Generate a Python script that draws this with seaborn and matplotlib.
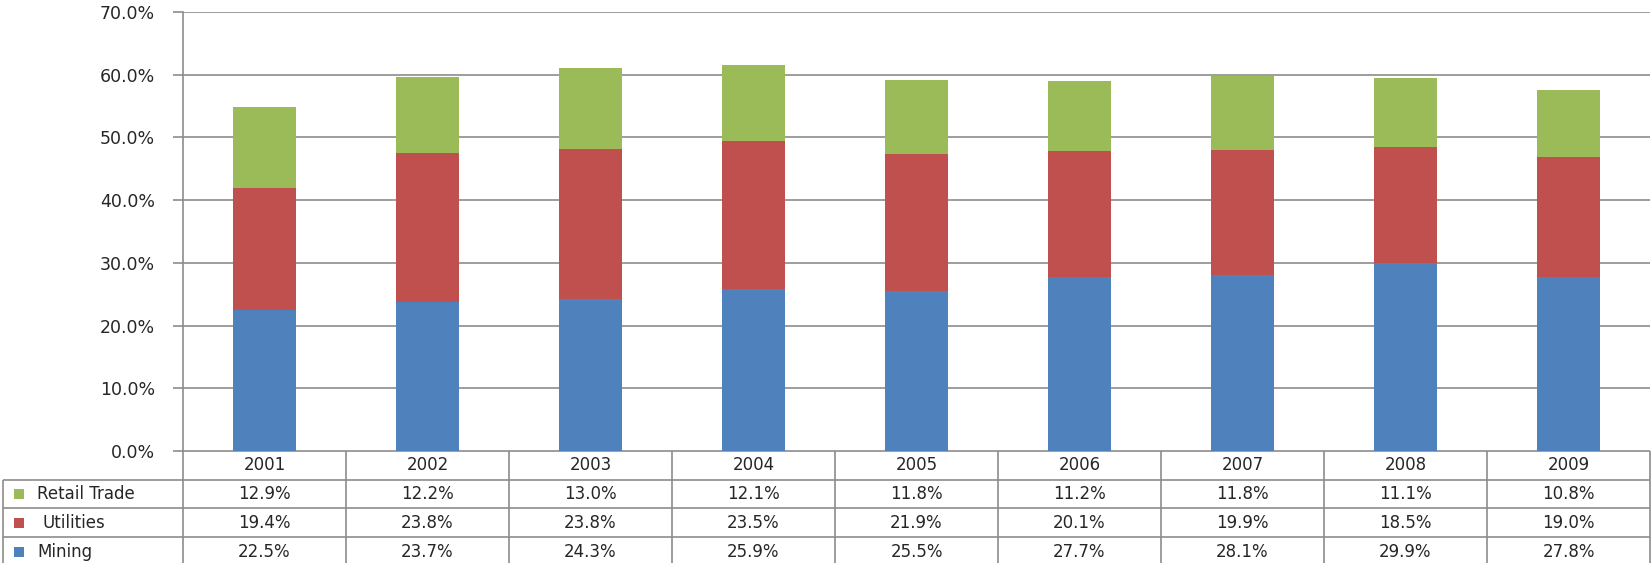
import matplotlib
matplotlib.use("Agg")
import matplotlib.pyplot as plt
from matplotlib.ticker import FuncFormatter
import seaborn as sns

# --- data (percent) ---
years = ['2001', '2002', '2003', '2004', '2005', '2006', '2007', '2008', '2009']
retail = [12.9, 12.2, 13.0, 12.1, 11.8, 11.2, 11.8, 11.1, 10.8]
utilities = [19.4, 23.8, 23.8, 23.5, 21.9, 20.1, 19.9, 18.5, 19.0]
mining = [22.5, 23.7, 24.3, 25.9, 25.5, 27.7, 28.1, 29.9, 27.8]

series_names = ['Retail Trade', 'Utilities', 'Mining']
series_vals = [retail, utilities, mining]
colors = {'Retail Trade': '#9BBB59', 'Utilities': '#C0504D', 'Mining': '#4F81BD'}

sns.set_style('white')
plt.rcParams['font.family'] = ['DejaVu Sans']
grid_col = '#8c8c8c'
text_col = '#262626'

W, H = 1652, 563
fig = plt.figure(figsize=(W / 100, H / 100), dpi=100)

# plot area in pixel coords
x0, x1, y_top, y_bot = 183, 1650, 12, 451
ax = fig.add_axes([x0 / W, 1 - y_bot / H, (x1 - x0) / W, (y_bot - y_top) / H])

# stacked bars: draw cumulative totals from top down
mu = [m + u for m, u in zip(mining, utilities)]
total = [a + r for a, r in zip(mu, retail)]
bar_w = 0.39
for vals, name in [(total, 'Retail Trade'), (mu, 'Utilities'), (mining, 'Mining')]:
    sns.barplot(x=years, y=vals, color=colors[name], saturation=1, width=bar_w,
                linewidth=0, edgecolor='none', ax=ax)

ax.set_xlim(-0.5, len(years) - 0.5)
ax.set_ylim(0, 70)
ax.set_yticks(range(0, 71, 10))
ax.yaxis.set_major_formatter(FuncFormatter(lambda v, p: f'{v:.1f}%'))
ax.yaxis.grid(True, color=grid_col, linewidth=1.2)
ax.set_axisbelow(True)
ax.set_xticks([])
ax.set_xlabel('')
ax.set_ylabel('')
for s in ['top', 'right', 'bottom']:
    ax.spines[s].set_visible(False)
ax.spines['left'].set_color(grid_col)
ax.spines['left'].set_linewidth(1.2)
ax.tick_params(axis='y', left=True, length=7, width=1.2, color=grid_col,
               pad=13, labelsize=12.5, labelcolor=text_col)

# --- data table under the chart (drawn in pixel coords) ---
tx0, ty_top, ty_bot = 3, 451, 566
tax = fig.add_axes([0, 1 - ty_bot / H, 1, (ty_bot - ty_top) / H])
tax.set_xlim(0, W)
tax.set_ylim(ty_bot, ty_top)
tax.axis('off')

row_h = (ty_bot - ty_top) / 4
col_w = (x1 - x0) / len(years)
line_kw = dict(color=grid_col, linewidth=1.2)

# horizontal lines
tax.hlines(ty_top + row_h, tx0, x1, **line_kw)
tax.hlines(ty_top + 2 * row_h, tx0, x1, **line_kw)
tax.hlines(ty_top + 3 * row_h, tx0, x1, **line_kw)
tax.hlines(ty_bot, tx0, x1, **line_kw)
tax.hlines(ty_top, x0, x1, **line_kw)
# vertical lines
tax.vlines(tx0, ty_top + row_h, ty_bot, **line_kw)
for j in range(len(years) + 1):
    tax.vlines(x0 + j * col_w, ty_top, ty_bot, **line_kw)

fs = 12
for j, yr in enumerate(years):
    tax.text(x0 + (j + 0.5) * col_w, ty_top + 0.5 * row_h, yr, ha='center', va='center',
             fontsize=fs, color=text_col)
for i, (name, vals) in enumerate(zip(series_names, series_vals)):
    yc = ty_top + (i + 1.5) * row_h
    tax.scatter([18.5], [yc], marker='s', s=42, color=colors[name], linewidths=0)
    tax.text(37 if name != 'Utilities' else 42, yc, name, ha='left', va='center',
             fontsize=fs, color=text_col)
    for j, v in enumerate(vals):
        tax.text(x0 + (j + 0.5) * col_w, yc, f'{v:.1f}%', ha='center', va='center',
                 fontsize=fs, color=text_col)

fig.savefig('out.png', dpi=100, facecolor='white')
